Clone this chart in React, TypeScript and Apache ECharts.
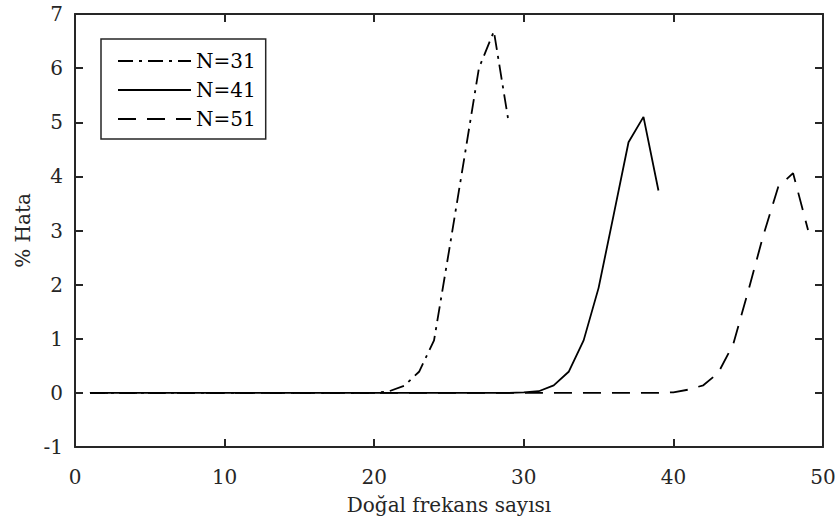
import { useEffect, useRef } from "react";
import * as echarts from "echarts";

const seriesNames = ["N=31", "N=41", "N=51"];

// % Hata values, index i corresponds to Doğal frekans sayısı = i + 1
const errN31 = [
  0, 0, 0, 0, 0, 0, 0, 0, 0, 0,
  0, 0, 0, 0, 0, 0, 0, 0, 0, 0,
  0.03, 0.13, 0.39, 0.97, 2.62, 4.3, 6.0, 6.68, 4.98,
];
const errN41 = [
  0, 0, 0, 0, 0, 0, 0, 0, 0, 0,
  0, 0, 0, 0, 0, 0, 0, 0, 0, 0,
  0, 0, 0, 0, 0, 0, 0, 0, 0,
  0.01, 0.03, 0.14, 0.39, 0.97, 1.94, 3.28, 4.63, 5.1, 3.74,
];
const errN51 = [
  0, 0, 0, 0, 0, 0, 0, 0, 0, 0,
  0, 0, 0, 0, 0, 0, 0, 0, 0, 0,
  0, 0, 0, 0, 0, 0, 0, 0, 0, 0,
  0, 0, 0, 0, 0, 0, 0, 0, 0,
  0.01, 0.06, 0.14, 0.37, 0.9, 1.88, 2.9, 3.8, 4.06, 3.01,
];

const xMin = 0;
const xMax = 50;
const xStep = 10;
const yMin = -1;
const yMax = 7;
const yStep = 1;

const FONT = "DejaVu Serif";
const AXIS_COLOR = "#262626";

const toPairs = (vals: number[]) => vals.map((v, i) => [i + 1, v]);

export default function App() {
  const ref = useRef<HTMLDivElement>(null);

  useEffect(() => {
    if (!ref.current) return;
    const chart = echarts.init(ref.current, undefined, { renderer: "svg" });

    const mkLine = () => ({ show: true, onZero: false, lineStyle: { color: AXIS_COLOR, width: 2 } });
    const mkTick = () => ({ show: true, inside: true, length: 8, lineStyle: { color: AXIS_COLOR, width: 2 } });

    const lineStyles: any[] = [
      { color: "#000", width: 1.8, type: [15, 6, 3, 6] },
      { color: "#000", width: 1.8, type: "solid" },
      { color: "#000", width: 1.8, type: [18, 11] },
    ];
    const datasets = [errN31, errN41, errN51];

    chart.setOption({
      animation: false,
      textStyle: { fontFamily: FONT },
      grid: {
        left: 75,
        right: 12,
        top: 14,
        bottom: 75,
        outerBoundsMode: "none",
      },
      legend: {
        show: true,
        orient: "vertical",
        left: 101,
        top: 39,
        padding: [12, 10, 10, 16],
        itemGap: 9,
        itemWidth: 73,
        itemHeight: 10,
        borderColor: AXIS_COLOR,
        borderWidth: 1.5,
        backgroundColor: "#fff",
        data: seriesNames,
        itemStyle: { color: "transparent", borderColor: "transparent", borderWidth: 0, opacity: 0 },
        textStyle: { fontFamily: FONT, fontSize: 20, color: "#000" },
      },
      xAxis: [
        {
          type: "value",
          position: "bottom",
          min: xMin,
          max: xMax,
          interval: xStep,
          name: "Doğal frekans sayısı",
          nameLocation: "middle",
          nameGap: 48,
          nameTextStyle: { fontFamily: FONT, fontSize: 20, color: AXIS_COLOR },
          axisLine: mkLine(),
          axisTick: mkTick(),
          splitLine: { show: false },
          axisLabel: { fontFamily: FONT, fontSize: 20, color: AXIS_COLOR, margin: 20 },
        },
        {
          type: "value",
          position: "top",
          min: xMin,
          max: xMax,
          interval: xStep,
          axisLine: mkLine(),
          axisTick: mkTick(),
          splitLine: { show: false },
          axisLabel: { show: false },
        },
      ],
      yAxis: [
        {
          type: "value",
          position: "left",
          min: yMin,
          max: yMax,
          interval: yStep,
          name: "% Hata",
          nameLocation: "middle",
          nameGap: 40,
          nameTextStyle: { fontFamily: FONT, fontSize: 20, color: AXIS_COLOR },
          axisLine: mkLine(),
          axisTick: mkTick(),
          splitLine: { show: false },
          axisLabel: { fontFamily: FONT, fontSize: 20, color: AXIS_COLOR, margin: 12 },
        },
        {
          type: "value",
          position: "right",
          min: yMin,
          max: yMax,
          interval: yStep,
          axisLine: mkLine(),
          axisTick: mkTick(),
          splitLine: { show: false },
          axisLabel: { show: false },
        },
      ],
      series: seriesNames.map((name, k) => ({
        name,
        type: "line",
        xAxisIndex: 0,
        yAxisIndex: 0,
        symbol: "none",
        showSymbol: false,
        lineStyle: lineStyles[k],
        itemStyle: { color: "#000" },
        data: toPairs(datasets[k]),
      })),
    });

    return () => chart.dispose();
  }, []);

  return (
    <div
      ref={ref}
      style={{ position: "fixed", left: 0, top: 0, width: 835, height: 522, background: "#fff" }}
    />
  );
}
